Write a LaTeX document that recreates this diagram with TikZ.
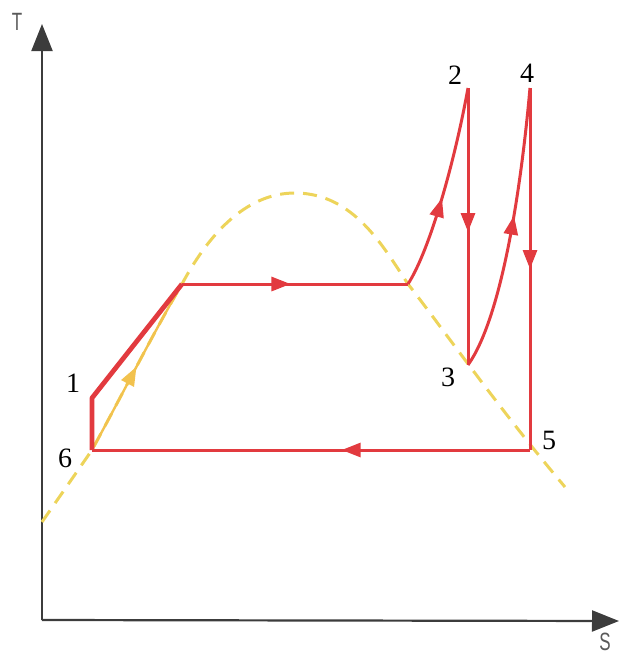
\documentclass[tikz,border=0pt]{standalone}
\usepackage{fontspec}
\setmainfont{Liberation Serif}
\setsansfont{Liberation Sans}
\usetikzlibrary{arrows.meta,decorations.markings}
\definecolor{axis}{HTML}{3C3C3C}
\definecolor{cycle}{HTML}{E23A3F}
\definecolor{dome}{HTML}{EDD45A}
\definecolor{liquid}{HTML}{F2C24E}
\tikzset{
  >=Triangle,
  axisline/.style={draw=axis,line width=2.2pt,-{Triangle[length=27pt,width=21pt]}},
  domeline/.style={draw=dome,line width=3pt,dash pattern=on 14pt off 9pt},
  liquidline/.style={draw=liquid,line width=2.4pt},
  cycleline/.style={draw=cycle,line width=3pt,line join=round},
  thickline/.style={cycleline,line width=4.8pt},
  midarrow/.style 2 args={postaction={decorate},decoration={markings,
    mark=at position #1 with {\arrow[#2]{Triangle[length=19pt,width=14pt]}}}},
  statelabel/.style={font=\fontsize{28}{30}\selectfont,inner sep=0pt},
  axislabel/.style={font=\sffamily\fontsize{25}{26}\selectfont,text=axis!85,inner sep=0pt,xscale=0.68},
}
\begin{document}
\begin{tikzpicture}[x=1pt,y=-1pt]
\useasboundingbox (0,0) rectangle (619,657);
% axes
\coordinate (origin) at (42,620);
\coordinate (ttip) at (42,24);
\coordinate (stip) at (619,621);
\draw[axisline] (origin) -- (ttip);
\draw[axisline] (origin) -- (stip);
\node[axislabel] (tlabel) at (17,22) {T};
\node[axislabel] (slabel) at (605,642) {S};
% cycle points
\coordinate (p1) at (92,398);
\coordinate (p2) at (468,88);
\coordinate (p3) at (468,365);
\coordinate (p4) at (530,88);
\coordinate (p5) at (530,450);
\coordinate (p6) at (92,450);
\coordinate (boil) at (182,284);
\coordinate (sat) at (408,284);
% saturation dome
\coordinate (domestart) at (42,522);
\coordinate (domepeak) at (295,193);
\coordinate (domeend) at (565,487);
\draw[domeline] (domestart) -- (p6) .. controls (122,395) and (155,330) .. (boil)
  .. controls (212,228) and (250,193) .. (domepeak)
  .. controls (355,193) and (385,250) .. (sat)
  .. controls (440,325) and (500,410) .. (domeend);
% liquid heating
\draw[liquidline,midarrow={0.5}{liquid}] (p6) .. controls (122,395) and (155,330) .. (boil);
% cycle
\draw[thickline] (p6) -- (p1) -- (boil);
\draw[cycleline,midarrow={0.48}{cycle}] (boil) -- (sat);
\draw[cycleline,midarrow={0.45}{cycle}] (sat) .. controls (430,250) and (455,160) .. (p2);
\draw[cycleline,midarrow={0.52}{cycle}] (p2) -- (p3);
\draw[cycleline,midarrow={0.55}{cycle}] (p3) .. controls (500,320) and (520,200) .. (p4);
\draw[cycleline,midarrow={0.5}{cycle}] (p4) -- (p5);
\draw[cycleline,midarrow={0.43}{cycle}] (p5) -- (p6);
% labels
\node[statelabel] (l1) at (73,383) {1};
\node[statelabel] (l2) at (455,75) {2};
\node[statelabel] (l3) at (448,377) {3};
\node[statelabel] (l4) at (527,73) {4};
\node[statelabel] (l5) at (549,440) {5};
\node[statelabel] (l6) at (65,458) {6};
\end{tikzpicture}
\end{document}
